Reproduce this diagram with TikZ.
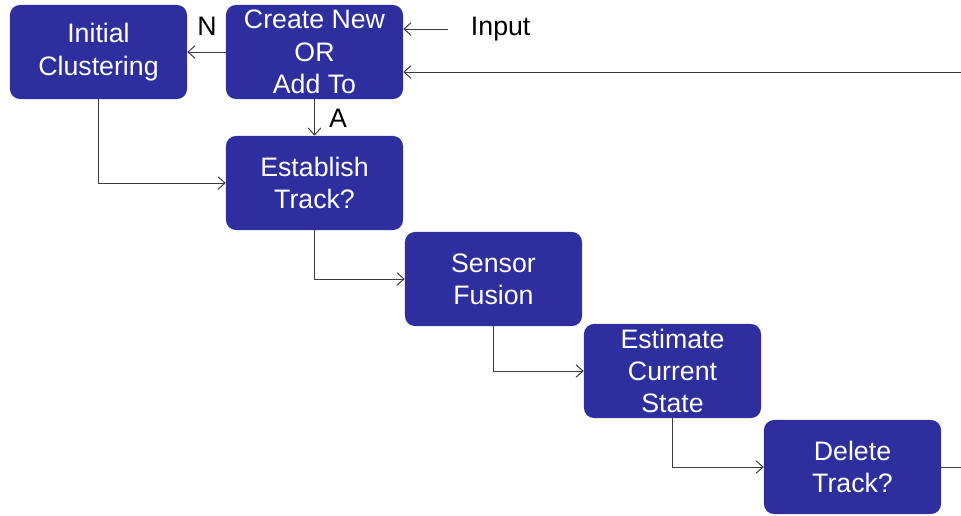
\documentclass[tikz,border=0pt]{standalone}
\usepackage{fontspec}
\setmainfont{Liberation Sans}
\usetikzlibrary{arrows.meta}
\definecolor{boxblue}{RGB}{46,46,158}
\definecolor{linegray}{RGB}{60,60,60}
\tikzset{
    stagebox/.style={draw=none, fill=boxblue, rounded corners=0.25cm, text=white,
        minimum width=4.425cm, minimum height=2.35cm, align=center,
        font=\fontsize{19}{23}\selectfont},
    flow/.style={draw=linegray, line width=0.7pt, -{Straight Barb[length=5pt,width=9pt]}},
    tag/.style={font=\fontsize{19}{23}\selectfont}
}
\begin{document}
\begin{tikzpicture}[x=0.025cm, y=-0.025cm]
        \useasboundingbox (0, 0) rectangle (961, 515);
        \node[stagebox] (cluster) at (98.5, 52) {Initial\\Clustering};
        \node[stagebox] (create) at (314.5, 52) {Create New\\OR\\Add To};
        \node[stagebox] (establish) at (314.5, 183) {Establish\\Track?};
        \node[stagebox] (fusion) at (493.5, 279) {Sensor\\Fusion};
        \node[stagebox] (estimate) at (672.5, 371) {Estimate\\Current\\State};
        \node[stagebox] (delete) at (852.5, 467) {Delete\\Track?};
        \node[tag, anchor=west] (input) at (466, 29) {Input};
        \node[tag] (nlabel) at (207, 26) {N};
        \node[tag] (alabel) at (338, 118) {A};
        \coordinate (loopin) at (961, 72);
        \coordinate (loopout) at (961, 467);
        \draw[flow] (create.west) -- (cluster.east);
        \draw[flow] (create.south) -- (establish.north);
        \draw[flow] (cluster.south) |- (establish.west);
        \draw[flow] (establish.south) |- (fusion.west);
        \draw[flow] (fusion.south) |- (estimate.west);
        \draw[flow] (estimate.south) |- (delete.west);
        \draw[flow] (input.west -| 448, 0) -- (create.east |- input.west);
        \draw[flow] (loopin) -- (create.east |- loopin);
        \draw[draw=linegray, line width=0.7pt] (delete.east) -- (loopout);
    \end{tikzpicture}
\end{document}
